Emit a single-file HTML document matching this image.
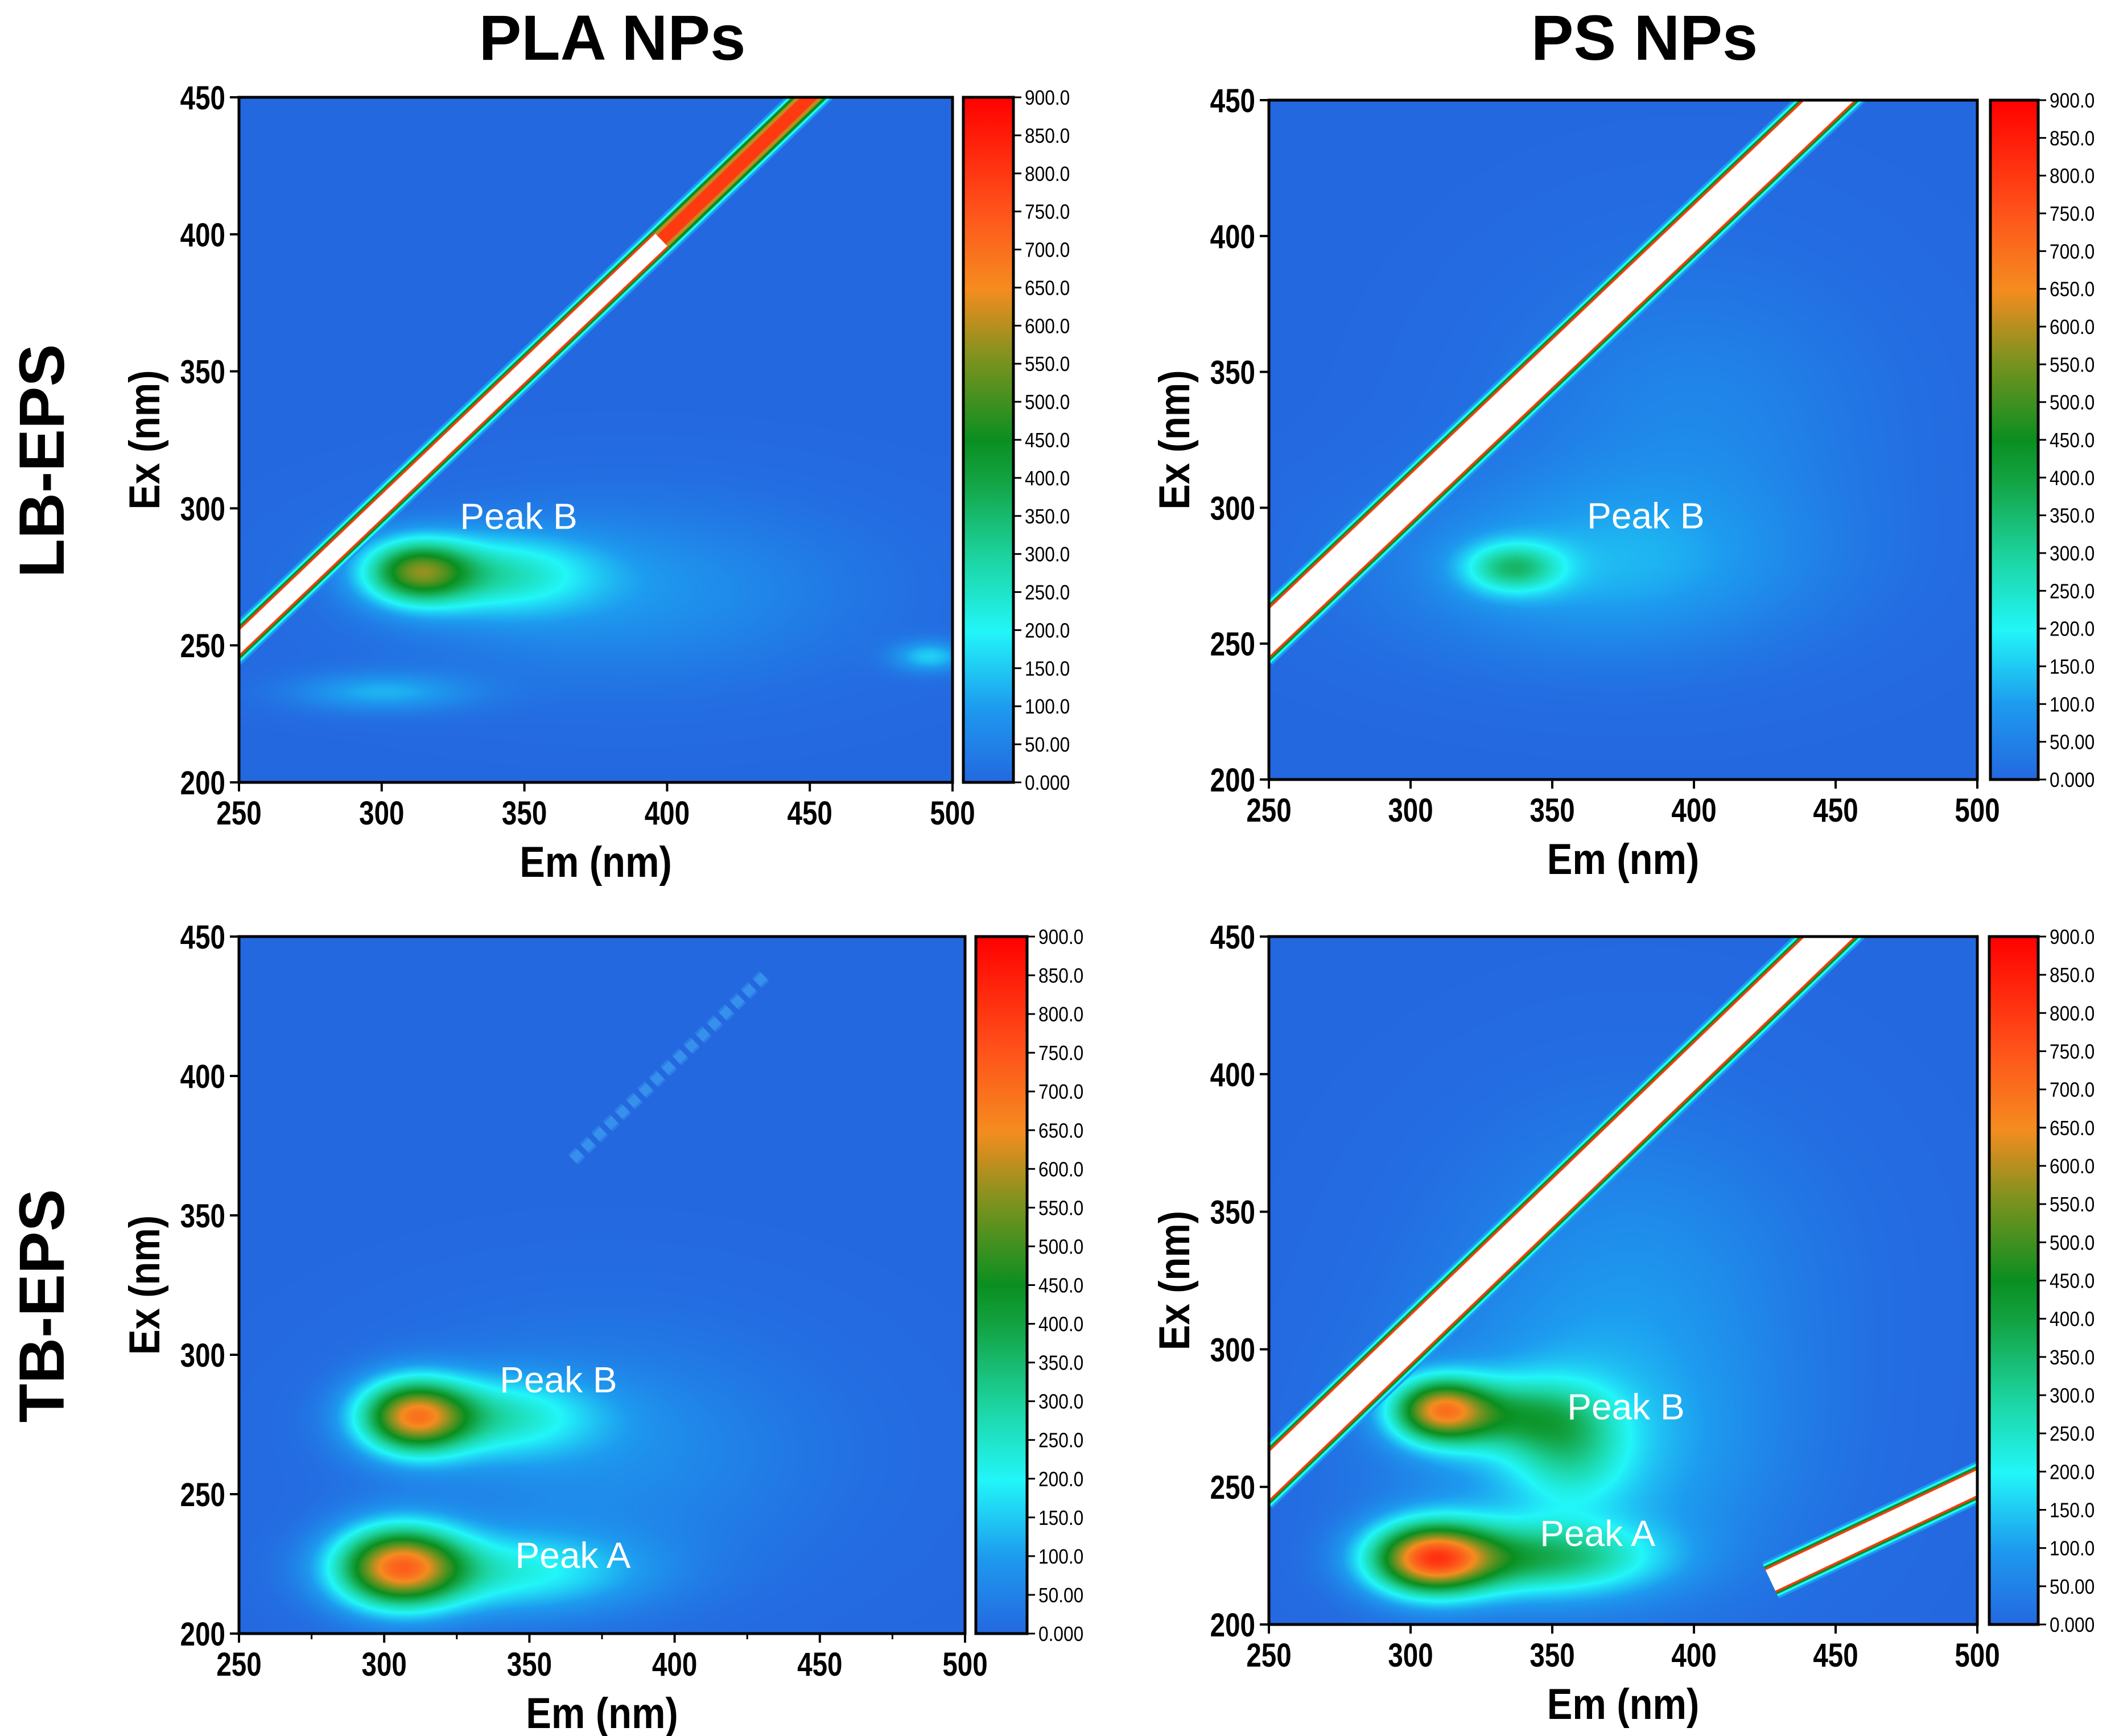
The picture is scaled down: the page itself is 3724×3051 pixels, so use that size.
<!DOCTYPE html>
<html><head><meta charset="utf-8">
<style>
html,body{margin:0;padding:0;background:#fff;}
#wrap{position:relative;width:3724px;height:3051px;}
canvas{position:absolute;}
svg{position:absolute;left:0;top:0;display:block;}
text{font-family:"Liberation Sans",Arial,sans-serif;}
</style></head>
<body>
<div id="wrap">
<svg id="fig" width="3724" height="3051" viewBox="0 0 3724 3051" xmlns="http://www.w3.org/2000/svg">
<defs>
<linearGradient id="cbar" x1="0" y1="1" x2="0" y2="0">
<stop offset="0" stop-color="#2468e0"/>
<stop offset="0.11" stop-color="#1d9bef"/>
<stop offset="0.22" stop-color="#22f6f8"/>
<stop offset="0.33" stop-color="#1cd39e"/>
<stop offset="0.44" stop-color="#13a343"/>
<stop offset="0.50" stop-color="#0a8f20"/>
<stop offset="0.62" stop-color="#7f921f"/>
<stop offset="0.72" stop-color="#f58c1f"/>
<stop offset="0.84" stop-color="#ff501a"/>
<stop offset="1" stop-color="#ff0000"/>
</linearGradient>
</defs>
<g id="root"></g>
</svg>
</div>
<script>
// ---- data (per panel) ----
const emTicks = [250, 300, 350, 400, 450, 500];
const exTicks = [200, 250, 300, 350, 400, 450];
const cbarLabels = ["900.0","850.0","800.0","750.0","700.0","650.0","600.0","550.0","500.0","450.0","400.0","350.0","300.0","250.0","200.0","150.0","100.0","50.00","0.000"];
// peaks: [em, ex, sigmaEm, sigmaEx, intensity]  (summed gaussians)
const peaksP1 = [[312,277,13,8,430],[340,276,24,10,210],[385,270,55,22,85],[300,233,22,5,120],[492,246,9,4,150]];
const peaksP2 = [[336,278,12,6.5,260],[365,278,50,22,110],[400,330,45,40,60]];
const peaksP3 = [[310,278,13,9,560],[338,278,24,10,210],[305,224,15,10,620],[342,222,32,10,200],[375,265,50,30,75]];
const peaksP4 = [[310,278,12,8,540],[335,276,18,9,230],[356,265,14,14,170],[307,224,15,9,650],[345,224,28,9,300],[362,260,45,35,130],[380,330,45,40,70]];
// ridges: [em1, ex1, em2, ex2, width(nm), kind]
const ridgesP1 = [[245,246,398,398,6,"white"],[398,398,460,460,6,"red"]];
const ridgesP2 = [[245,249,460,462,12,"white"]];
const ridgesP3 = [[365,370,432,437,4,"faint"]];
const ridgesP4 = [[245,249,460,462,12,"white"],[427,216,505,254,8,"white"]];
const labelsP1 = [["Peak B",348,296]];
const labelsP2 = [["Peak B",383,296]];
const labelsP3 = [["Peak B",360,290],["Peak A",365,227]];
const labelsP4 = [["Peak B",376,278],["Peak A",366,232]];

const panels = [
 {name:"pla-lb-eps", x0:420,x1:1674,y0:171,y1:1375,cb0:1693,cb1:1781,peaks:peaksP1,ridges:ridgesP1,labels:labelsP1,minor:false},
 {name:"ps-lb-eps", x0:2230,x1:3475,y0:176,y1:1370,cb0:3498,cb1:3582,peaks:peaksP2,ridges:ridgesP2,labels:labelsP2,minor:false},
 {name:"pla-tb-eps", x0:420,x1:1696,y0:1646,y1:2871,cb0:1715,cb1:1805,peaks:peaksP3,ridges:ridgesP3,labels:labelsP3,minor:true},
 {name:"ps-tb-eps", x0:2230,x1:3475,y0:1646,y1:2855,cb0:3496,cb1:3582,peaks:peaksP4,ridges:ridgesP4,labels:labelsP4,minor:false}
];
const cstops=[[0,[36,104,224]],[100,[29,155,239]],[200,[34,246,248]],[300,[28,211,158]],[400,[19,163,67]],[450,[10,143,32]],[560,[127,146,31]],[650,[245,140,31]],[760,[255,80,26]],[900,[255,0,0]]];
function cmapArr(v){
 if(v<=0) return cstops[0][1];
 for(let i=1;i<cstops.length;i++){ if(v<=cstops[i][0]){const a=cstops[i-1],b=cstops[i];const t=(v-a[0])/(b[0]-a[0]);
  return a[1].map((x,k)=>Math.round(x+(b[1][k]-x)*t));}}
 return [255,0,0];
}
const NS="http://www.w3.org/2000/svg";
const root=document.getElementById('root');
const wrap=document.getElementById('wrap');
function mk(tag,attrs,parent){const e=document.createElementNS(NS,tag);for(const k in attrs)e.setAttribute(k,attrs[k]);(parent||root).appendChild(e);return e;}
function ntext(parent,x,y,size,anchor,txt,name,sx){
 const t=mk('text',{x:0,y:0,'text-anchor':anchor,'font-size':size,'font-weight':'bold',transform:`translate(${x},${y}) scale(${sx||0.82},1)`},parent);
 t.textContent=txt;
 
 
 return t;
}

panels.forEach((p,pi)=>{
 const sx=v=>p.x0+(v-250)/250*(p.x1-p.x0);
 const sy=v=>p.y1-(v-200)/250*(p.y1-p.y0);
 const pxPerNm=(p.x1-p.x0)/250;
 const W=p.x1-p.x0,H=p.y1-p.y0;
 const cv=document.createElement('canvas');
 cv.width=W;cv.height=H;cv.style.left=p.x0+'px';cv.style.top=p.y0+'px';
 
 
 wrap.insertBefore(cv,wrap.firstChild);
 const ctx=cv.getContext('2d');const img=ctx.createImageData(W,H);const d=img.data;
 for(let y=0;y<H;y++){const ex=450-y/H*250;
  for(let x=0;x<W;x++){const em=250+x/W*250;let v=0;
   for(const [pe,px,se,sx2,a] of p.peaks){const dx=(em-pe)/se,dy=(ex-px)/sx2;const q=dx*dx+dy*dy;if(q<30)v+=a*Math.exp(-q/2);}
   const c=cmapArr(v);const i=(y*W+x)*4;d[i]=c[0];d[i+1]=c[1];d[i+2]=c[2];d[i+3]=255;}}
 ctx.putImageData(img,0,0);

 const g=mk('g',{});  
 const cp=mk('clipPath',{id:'clip'+pi},g);
 mk('rect',{x:p.x0,y:p.y0,width:W,height:H},cp);
 const hm=mk('g',{'clip-path':`url(#clip${pi})`},g);
 p.ridges.forEach(([e1,x1,e2,x2,w,kind])=>{
  const dd=`M${sx(e1)},${sy(x1)}L${sx(e2)},${sy(x2)}`;
  const wp=w*pxPerNm;
  let layers;
  if(kind==="white") layers=[[wp+30,'#1d9bef'],[wp+22,'#22f6f8'],[wp+14,'#0a8f20'],[wp+7,'#ff3a10'],[wp,'#ffffff']];
  else if(kind==="red") layers=[[wp+30,'#1d9bef'],[wp+22,'#22f6f8'],[wp+14,'#0a8f20'],[wp+4,'#c08a20'],[wp-8,'#ff3a10']];
  else layers=[[wp+4,'#2b7ee6'],[wp-4,'#3690ec']];
  layers.forEach(([sw,c])=>{const l=mk('path',{d:dd,stroke:c,'stroke-width':sw,fill:'none','stroke-dasharray':kind==="faint"?'18 10':'none'},hm);
    });
 });
 p.labels.forEach(([t,em,ex])=>{const tx=mk('text',{x:sx(em),y:sy(ex),'text-anchor':'middle','dominant-baseline':'middle','font-size':64,fill:'#fff'},g);tx.textContent=t;
   });
 const fr=mk('rect',{x:p.x0,y:p.y0,width:W,height:H,fill:'none',stroke:'#000','stroke-width':5},g);
  
 emTicks.forEach(v=>{mk('line',{x1:sx(v),x2:sx(v),y1:p.y1,y2:p.y1+16,stroke:'#000','stroke-width':4},g);
  ntext(g,sx(v),p.y1+74,58,'middle',v,'x-tick-label');});
 if(p.minor) [275,325,375,425,475].forEach(v=>mk('line',{x1:sx(v),x2:sx(v),y1:p.y1,y2:p.y1+10,stroke:'#000','stroke-width':3},g));
 exTicks.forEach(v=>{mk('line',{x1:p.x0-16,x2:p.x0,y1:sy(v),y2:sy(v),stroke:'#000','stroke-width':4},g);
  ntext(g,p.x0-24,sy(v)+21,58,'end',v,'y-tick-label');});
 ntext(g,(p.x0+p.x1)/2,p.y1+166,76,'middle','Em (nm)','x-axis-title',0.88);
 const yt=mk('text',{x:0,y:0,'text-anchor':'middle','font-size':76,'font-weight':'bold',transform:`translate(${p.x0-140},${(p.y0+p.y1)/2}) rotate(-90) scale(0.88,1)`},g);yt.textContent='Ex (nm)';
  
 const cb=mk('rect',{x:p.cb0,y:p.y0,width:p.cb1-p.cb0,height:H,fill:'url(#cbar)',stroke:'#000','stroke-width':5},g);
  
 cbarLabels.forEach((l,i)=>{const y=p.y0+i*H/18;
  mk('line',{x1:p.cb1,x2:p.cb1+14,y1:y,y2:y,stroke:'#000','stroke-width':3},g);
  const t=mk('text',{x:0,y:0,'font-size':36,transform:`translate(${p.cb1+20},${y+13}) scale(0.88,1)`},g);t.textContent=l;
   });
});
function title(txt,x,y,rot,name){const t=mk('text',{x:0,y:0,'text-anchor':'middle','font-size':112,'font-weight':'bold',transform:`translate(${x},${y}) rotate(${rot})`});t.textContent=txt;
  }
title('PLA NPs',1076,105,0,'column-title-pla');
title('PS NPs',2890,105,0,'column-title-ps');
title('LB-EPS',112,810,-90,'row-title-lb');
title('TB-EPS',112,2295,-90,'row-title-tb');
</script>
</body></html>
